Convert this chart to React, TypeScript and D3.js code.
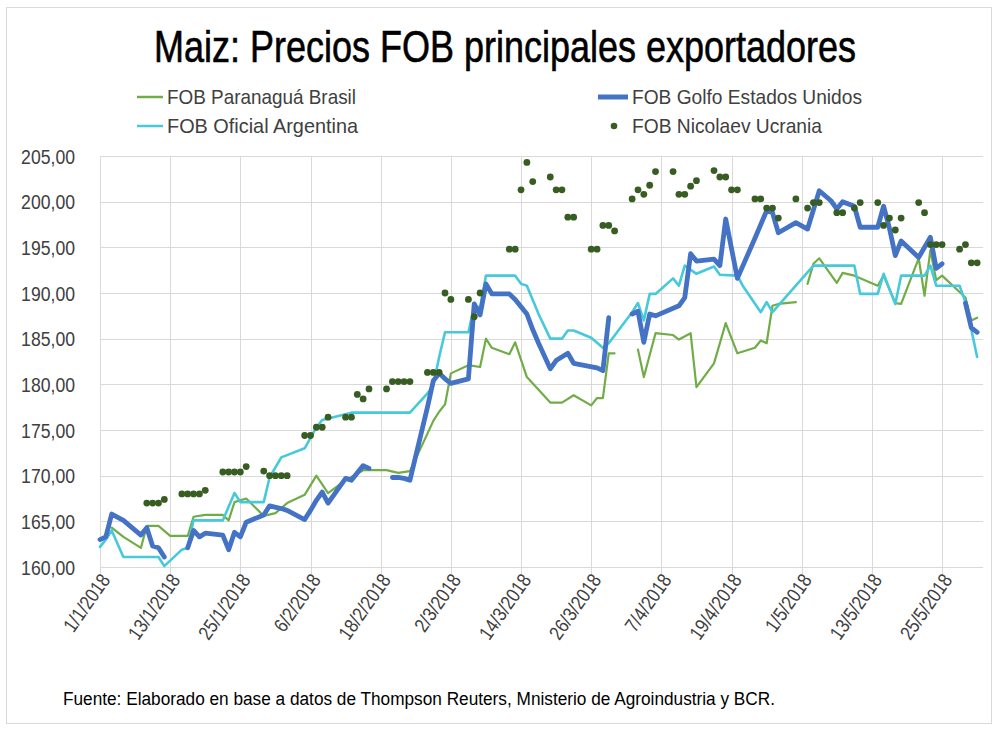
import React from "react";
import * as d3 from "d3";

type Pt = [string, number | null];

// FOB Paranaguá Brasil
const brasil: Pt[] = [
  ["3/1", 164.3], ["5/1", 163.3], ["8/1", 162.1], ["9/1", 164.5], ["11/1", 164.5], ["13/1", 163.4],
  ["16/1", 163.4], ["17/1", 165.5], ["19/1", 165.7], ["22/1", 165.7], ["23/1", 165.1], ["24/1", 167.1],
  ["26/1", 167.5], ["29/1", 165.6], ["31/1", 165.9], ["2/2", 167.0], ["5/2", 167.9], ["7/2", 170.0],
  ["9/2", 168.1], ["12/2", 169.5], ["15/2", 170.6], ["19/2", 170.6], ["21/2", 170.3], ["23/2", 170.5],
  ["26/2", 174.6], ["27/2", 176.0], ["28/2", 177.0], ["1/3", 177.8], ["2/3", 181.2], ["5/3", 182.1],
  ["7/3", 181.9], ["8/3", 185.0], ["9/3", 184.0], ["12/3", 183.3], ["13/3", 184.6], ["15/3", 180.8],
  ["17/3", 179.4], ["19/3", 178.0], ["21/3", 178.0], ["23/3", 178.8], ["26/3", 177.7], ["27/3", 178.5],
  ["28/3", 178.5], ["29/3", 183.4], ["30/3", 183.4], ["31/3", null],
  ["3/4", 183.8], ["4/4", 180.8], ["6/4", 185.6], ["9/4", 185.4], ["10/4", 184.9], ["12/4", 185.6],
  ["13/4", 179.7], ["16/4", 182.3], ["18/4", 186.7], ["20/4", 183.4], ["23/4", 184.0], ["24/4", 184.8],
  ["25/4", 184.5], ["26/4", 188.6], ["27/4", 188.8], ["30/4", 189.0], ["1/5", null],
  ["2/5", 191.0], ["3/5", 193.2], ["4/5", 193.8], ["7/5", 191.1], ["8/5", 192.2], ["10/5", 191.9],
  ["14/5", 190.8], ["15/5", 191.9], ["17/5", 188.9], ["18/5", 188.8], ["21/5", 193.8], ["22/5", 189.7],
  ["23/5", 194.7], ["24/5", 191.4], ["25/5", 191.9], ["29/5", 189.5], ["30/5", 187.0], ["31/5", 187.3],
];

// FOB Golfo Estados Unidos
const golfo: Pt[] = [
  ["1/1", 163.0], ["2/1", 163.3], ["3/1", 165.8], ["5/1", 165.1], ["8/1", 163.5], ["9/1", 164.3],
  ["10/1", 162.3], ["11/1", 162.1], ["12/1", 161.1], ["13/1", null],
  ["16/1", 162.1], ["17/1", 164.0], ["18/1", 163.3], ["19/1", 163.7], ["22/1", 163.5], ["23/1", 161.9],
  ["24/1", 163.8], ["25/1", 163.3], ["26/1", 164.9], ["29/1", 165.7], ["30/1", 166.7], ["1/2", 166.4],
  ["2/2", 166.2], ["5/2", 165.2], ["6/2", 166.2], ["7/2", 167.3], ["8/2", 168.2], ["9/2", 167.0],
  ["12/2", 169.7], ["13/2", 169.5], ["15/2", 171.1], ["16/2", 170.8], ["17/2", null],
  ["20/2", 169.8], ["21/2", 169.8], ["22/2", 169.7], ["23/2", 169.5], ["26/2", 177.5], ["27/2", 180.4],
  ["28/2", 181.2], ["1/3", 180.6], ["2/3", 180.1], ["5/3", 180.6], ["6/3", 188.8], ["7/3", 187.6],
  ["8/3", 191.0], ["9/3", 189.9], ["12/3", 189.9], ["13/3", 189.3], ["14/3", 188.5], ["15/3", 187.7],
  ["16/3", 186.0], ["17/3", 184.5], ["19/3", 181.7], ["20/3", 182.6], ["22/3", 183.4], ["23/3", 182.3],
  ["27/3", 181.8], ["28/3", 181.5], ["29/3", 187.3], ["30/3", null],
  ["2/4", 187.7], ["3/4", 188.0], ["4/4", 184.6], ["5/4", 187.7], ["6/4", 187.5], ["10/4", 188.6],
  ["11/4", 189.5], ["12/4", 194.3], ["13/4", 193.5], ["16/4", 193.7], ["17/4", 193.0], ["18/4", 198.1],
  ["20/4", 191.6], ["23/4", 196.0], ["25/4", 199.0], ["26/4", 198.8], ["27/4", 196.6], ["30/4", 197.7],
  ["2/5", 197.0], ["4/5", 201.2], ["6/5", 200.1], ["7/5", 199.2], ["8/5", 200.0], ["10/5", 199.5],
  ["11/5", 197.2], ["14/5", 197.2], ["15/5", 199.5], ["16/5", 197.1], ["17/5", 194.1], ["18/5", 195.7],
  ["21/5", 193.9], ["23/5", 196.1], ["24/5", 192.7], ["25/5", 193.2], ["26/5", null],
  ["29/5", 188.9], ["30/5", 186.2], ["31/5", 185.7],
];

// FOB Oficial Argentina
const argentina: Pt[] = [
  ["1/1", 162.2], ["2/1", 163.0], ["3/1", 164.0], ["5/1", 161.1], ["11/1", 161.1], ["12/1", 160.1],
  ["15/1", 161.9], ["16/1", 162.1], ["17/1", 165.1], ["22/1", 165.1], ["24/1", 168.1], ["25/1", 167.1],
  ["29/1", 167.1], ["30/1", 169.8], ["1/2", 172.0], ["5/2", 173.0], ["7/2", 175.3], ["8/2", 176.1],
  ["13/2", 176.9], ["23/2", 176.9], ["26/2", 179.0], ["27/2", 179.9], ["28/2", 183.0], ["1/3", 185.7],
  ["5/3", 185.7], ["6/3", 188.6], ["7/3", 188.4], ["8/3", 191.9], ["13/3", 191.9], ["14/3", 191.0],
  ["15/3", 190.8], ["17/3", 187.7], ["19/3", 185.0], ["21/3", 185.0], ["22/3", 185.9], ["23/3", 185.9],
  ["26/3", 185.1], ["28/3", 184.0], ["29/3", 184.5], ["2/4", 187.9], ["3/4", 188.9], ["4/4", 187.0],
  ["5/4", 189.9], ["6/4", 189.9], ["9/4", 191.6], ["10/4", 190.8], ["11/4", 193.0], ["13/4", 192.1],
  ["16/4", 192.9], ["17/4", 192.0], ["20/4", 191.9], ["21/4", 190.7], ["24/4", 187.9], ["25/4", 189.0],
  ["26/4", 187.9], ["3/5", 193.0], ["10/5", 193.0], ["11/5", 189.9], ["14/5", 189.9], ["15/5", 192.1],
  ["17/5", 188.8], ["18/5", 191.9], ["22/5", 191.9], ["23/5", 193.0], ["24/5", 190.8], ["28/5", 190.8],
  ["29/5", 189.0], ["31/5", 183.0],
];

// FOB Nicolaev Ucrania (markers only)
const ucrania: Pt[] = [
  ["9/1", 167.0], ["10/1", 167.0], ["11/1", 167.0], ["12/1", 167.4],
  ["15/1", 168.0], ["16/1", 168.0], ["17/1", 168.0], ["18/1", 168.0], ["19/1", 168.4],
  ["22/1", 170.4], ["23/1", 170.4], ["24/1", 170.4], ["25/1", 170.4], ["26/1", 171.0],
  ["29/1", 170.5], ["30/1", 170.0], ["31/1", 170.0], ["1/2", 170.0], ["2/2", 170.0],
  ["5/2", 174.4], ["6/2", 174.4], ["7/2", 175.3], ["8/2", 175.3], ["9/2", 176.4],
  ["12/2", 176.4], ["13/2", 176.4], ["14/2", 178.9], ["15/2", 178.4], ["16/2", 179.5],
  ["19/2", 179.5], ["20/2", 180.3], ["21/2", 180.3], ["22/2", 180.3], ["23/2", 180.3],
  ["26/2", 181.3], ["27/2", 181.3], ["28/2", 181.3], ["1/3", 190.0], ["2/3", 189.3],
  ["5/3", 189.3], ["6/3", 187.4], ["7/3", 190.0],
  ["12/3", 194.8], ["13/3", 194.8], ["14/3", 201.3], ["15/3", 204.3], ["16/3", 202.2],
  ["19/3", 202.7], ["20/3", 201.3], ["21/3", 201.3], ["22/3", 198.3], ["23/3", 198.3],
  ["26/3", 194.8], ["27/3", 194.8], ["28/3", 197.4], ["29/3", 197.4], ["30/3", 196.8],
  ["2/4", 200.3], ["3/4", 201.3], ["4/4", 200.8], ["5/4", 201.8], ["6/4", 203.3],
  ["9/4", 203.3], ["10/4", 200.8], ["11/4", 200.8], ["12/4", 201.7], ["13/4", 202.3],
  ["16/4", 203.4], ["17/4", 202.7], ["18/4", 202.7], ["19/4", 201.3], ["20/4", 201.3],
  ["23/4", 200.3], ["24/4", 200.3], ["25/4", 199.3], ["26/4", 199.3], ["27/4", 198.2],
  ["30/4", 200.3], ["2/5", 199.3], ["3/5", 199.9], ["4/5", 199.9],
  ["7/5", 198.8], ["8/5", 198.8], ["10/5", 199.3], ["11/5", 199.9],
  ["14/5", 199.9], ["15/5", 197.4], ["16/5", 198.2], ["17/5", 196.9], ["18/5", 198.2],
  ["21/5", 199.9], ["22/5", 198.8], ["23/5", 195.3], ["24/5", 195.3], ["25/5", 195.3],
  ["28/5", 194.8], ["29/5", 195.3], ["30/5", 193.3], ["31/5", 193.3],
];

const yTicks = [160, 165, 170, 175, 180, 185, 190, 195, 200, 205];

const FONT = "'Liberation Sans', Arial, sans-serif";
const NARROW = 0.84;
const W = 995;
const H = 729;
const parse = d3.timeParse("%d/%m/%Y");
const toDate = (s: string) => parse(s + "/2018") as Date;

export default function App() {
  const start = toDate("1/1");
  const end = toDate("1/6");
  const x = d3.scaleTime().domain([start, end]).range([100, 983]);
  const y = d3.scaleLinear().domain([160, 205]).range([567, 156]);
  const xTicks = d3.timeDay.range(start, toDate("26/5"), 12);
  const fmt = d3.timeFormat("%-d/%-m/%Y");

  const line = d3
    .line<Pt>()
    .defined((d) => d[1] !== null)
    .x((d) => x(toDate(d[0])))
    .y((d) => y(d[1] as number));

  const series = [
    { data: brasil, color: "#70AD47", width: 2.2 },
    { data: argentina, color: "#47C9DC", width: 2.6 },
    { data: golfo, color: "#4472C4", width: 4.8 },
  ];

  const legend = [
    { label: "FOB Paranaguá Brasil", x: 167, y: 97, len: 189, kind: "line", color: "#70AD47", sw: 2.5, lx: 137 },
    { label: "FOB Golfo Estados Unidos", x: 632, y: 97, len: 230, kind: "line", color: "#4472C4", sw: 5, lx: 598 },
    { label: "FOB Oficial Argentina", x: 167, y: 126, len: 191, kind: "line", color: "#47C9DC", sw: 2.5, lx: 137 },
    { label: "FOB Nicolaev Ucrania", x: 632, y: 126, len: 190, kind: "dot", color: "#385D22", sw: 0, lx: 614 },
  ];

  return (
    <div style={{ position: "absolute", left: 0, top: 0, background: "#fff" }}>
      <svg width={W} height={H} style={{ display: "block", fontFamily: FONT }}>
        <rect x={0} y={0} width={W} height={H} fill="#fff" />
        <rect x={6.5} y={7.5} width={985} height={716} fill="none" stroke="#D9D9D9" />

        <g transform={`translate(505,62) scale(0.8,1)`}>
          <text x={0} y={0} textAnchor="middle" fontSize={45} fill="#000" stroke="#000" strokeWidth={0.6}>
            Maiz: Precios FOB principales exportadores
          </text>
        </g>

        {/* legend */}
        <g fontSize={21} fill="#404040">
          {legend.map((l) => (
            <g key={l.label}>
              {l.kind === "line" ? (
                <line x1={l.lx} x2={l.x - 4} y1={l.y} y2={l.y} stroke={l.color} strokeWidth={l.sw} />
              ) : (
                <circle cx={l.lx} cy={l.y} r={3.3} fill={l.color} />
              )}
              <text x={l.x} y={l.y + 7} textLength={l.len} lengthAdjust="spacingAndGlyphs">
                {l.label}
              </text>
            </g>
          ))}
        </g>

        {/* grid */}
        <g stroke="#D9D9D9" strokeWidth={1}>
          {yTicks.map((t) => (
            <line key={t} x1={100} x2={983} y1={Math.round(y(t)) + 0.5} y2={Math.round(y(t)) + 0.5} />
          ))}
          {xTicks.map((t) => (
            <line key={+t} x1={Math.round(x(t)) + 0.5} x2={Math.round(x(t)) + 0.5} y1={156} y2={574} />
          ))}
        </g>

        {/* y labels */}
        <g fontSize={21} fill="#404040" textAnchor="end">
          {yTicks.map((t) => (
            <text key={t} transform={`translate(75,${y(t) + 7.5}) scale(${NARROW},1)`}>
              {t.toFixed(2).replace(".", ",")}
            </text>
          ))}
        </g>

        {/* x labels */}
        <g fontSize={20} fill="#404040" textAnchor="end">
          {xTicks.map((t) => (
            <text key={+t} transform={`translate(${x(t) + 11},${580}) rotate(-55) scale(${NARROW},1)`}>
              {fmt(t)}
            </text>
          ))}
        </g>

        {/* series */}
        {series.map((s, i) => (
          <path key={i} d={line(s.data) || ""} fill="none" stroke={s.color} strokeWidth={s.width}
            strokeLinejoin="round" strokeLinecap="round" />
        ))}
        {ucrania.map((d, i) => (
          <circle key={i} cx={x(toDate(d[0]))} cy={y(d[1] as number)} r={3.4} fill="#385D22" />
        ))}

        <text x={63} y={705} fontSize={18} fill="#000" textLength={712} lengthAdjust="spacingAndGlyphs">
          Fuente: Elaborado en base a datos de Thompson Reuters, Mnisterio de Agroindustria y BCR.
        </text>
      </svg>
    </div>
  );
}
